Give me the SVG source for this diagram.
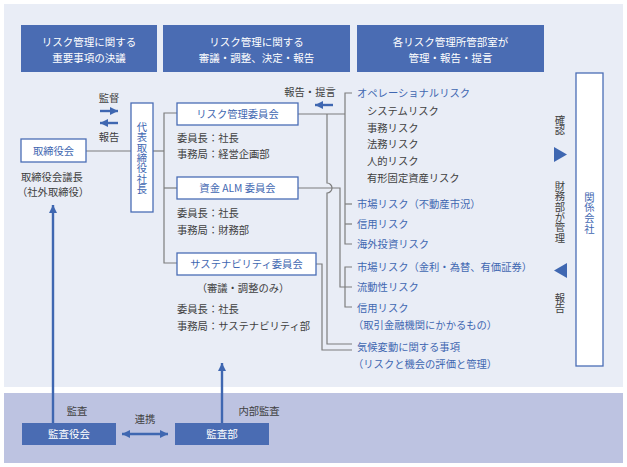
<svg xmlns="http://www.w3.org/2000/svg" width="627" height="467" viewBox="0 0 627 467">
<style>
text{font-family:"Noto Sans CJK JP","Noto Sans",sans-serif;font-size:10.3px}
.hd{fill:#ffffff;text-anchor:middle;font-size:10.5px}
.bl{fill:#3F67B1}
.gr{fill:#404040}
.c{text-anchor:middle}
.v{writing-mode:vertical-rl;text-anchor:middle}
.box{fill:#ffffff;stroke:#4A6DB5;stroke-width:1.3}
.hbox{fill:#4A6CB3}
.ln{fill:none;stroke:#7d7d7d;stroke-width:1.2}
.ar{fill:none;stroke:#3F67B1;stroke-width:2.4}
</style>
<defs>
<marker id="ah" viewBox="0 0 10 10" refX="10" refY="5" markerWidth="8" markerHeight="8" markerUnits="userSpaceOnUse" orient="auto-start-reverse">
<path d="M0,0 L10,5 L0,10 z" fill="#3F67B1"/>
</marker>
</defs>
<rect width="627" height="467" fill="#ffffff"/>
<rect x="4" y="4" width="619" height="383" fill="#E9EDF6"/>
<rect x="4" y="393" width="619" height="70" fill="#BDC3E1"/>

<g id="header1"><rect class="hbox" x="21" y="25" width="136" height="47"/><text class="hd" x="89" y="45.5">リスク管理に関する</text><text class="hd" x="89" y="61.5">重要事項の決議</text></g>
<g id="header2"><rect class="hbox" x="163" y="25" width="187" height="47"/><text class="hd" x="256.5" y="45.5">リスク管理に関する</text><text class="hd" x="256.5" y="61.5">審議・調整、決定・報告</text></g>
<g id="header3"><rect class="hbox" x="357" y="25" width="187" height="47"/><text class="hd" x="450.5" y="45.5">各リスク管理所管部室が</text><text class="hd" x="450.5" y="61.5">管理・報告・提言</text></g>

<g id="connectors">
<line class="ln" x1="86" y1="151" x2="131" y2="151"/>
<line class="ln" x1="153" y1="151" x2="164" y2="151"/>
<path class="ln" d="M177,113 H164 V263 H177"/>
<line class="ln" x1="164" y1="188" x2="177" y2="188"/>
<line class="ln" x1="298" y1="114" x2="345" y2="114"/>
<path class="ln" d="M327,114 V183 A5,5 0 0 1 327,193 V344 H352"/>
<path class="ln" d="M298,188 H340 V287 H352"/>
<path class="ln" d="M316,264 H322 V350 H352"/>
<path class="ln" d="M352,93 H345 V244 H352"/>
<line class="ln" x1="345" y1="204" x2="352" y2="204"/>
<line class="ln" x1="345" y1="224" x2="352" y2="224"/>
<path class="ln" d="M352,267 H345 V307 H352"/>
<line class="ar" x1="100" y1="111" x2="118" y2="111" marker-end="url(#ah)"/>
<line class="ar" x1="118" y1="123" x2="100" y2="123" marker-end="url(#ah)"/>
<line class="ar" x1="333" y1="105" x2="315" y2="105" marker-end="url(#ah)"/>
<line class="ar" x1="53" y1="423" x2="53" y2="205" marker-end="url(#ah)"/>
<line class="ar" x1="222" y1="423" x2="222" y2="363" marker-end="url(#ah)"/>
<line class="ar" x1="122" y1="434" x2="168" y2="434" marker-start="url(#ah)" marker-end="url(#ah)"/>
<polygon points="554,147 567,154.5 554,162" fill="#3F67B1"/>
<polygon points="567,263 554,270.5 567,278" fill="#3F67B1"/>
</g>

<g id="labels">
<text class="gr c" x="109" y="102">監督</text>
<text class="gr c" x="109" y="141">報告</text>
<text class="gr c" x="310" y="96">報告・提言</text>
<text class="gr c" x="77" y="415">監査</text>
<text class="gr c" x="145" y="423">連携</text>
<text class="gr c" x="259" y="415">内部監査</text>
<text class="gr v" x="560" y="125">確認</text>
<text class="gr v" x="560" y="212">財務部が管理</text>
<text class="gr v" x="560" y="303">報告</text>
</g>

<g id="board"><rect class="box" x="21" y="139" width="65" height="23"/><text class="bl c" x="53.5" y="154.5">取締役会</text>
<text class="gr" x="21" y="181">取締役会議長</text><text class="gr" x="17" y="196">（社外取締役）</text></g>

<g id="president"><rect class="box" x="131" y="103" width="22" height="109"/>
<text class="bl v" x="142" y="158">代表取締役社長</text></g>

<g id="riskcommittee"><rect class="box" x="177" y="103" width="121" height="22"/><text class="bl c" x="237.5" y="118">リスク管理委員会</text>
<text class="gr" x="177" y="142">委員長：社長</text><text class="gr" x="177" y="158">事務局：経営企画部</text></g>

<g id="almcommittee"><rect class="box" x="177" y="177" width="121" height="22"/><text class="bl c" x="237.5" y="192">資金 ALM 委員会</text>
<text class="gr" x="177" y="217">委員長：社長</text><text class="gr" x="177" y="234">事務局：財務部</text></g>

<g id="sustcommittee"><rect class="box" x="177" y="253" width="139" height="22"/><text class="bl c" x="246.5" y="268">サステナビリティ委員会</text>
<text class="gr c" x="243" y="292">（審議・調整のみ）</text>
<text class="gr" x="177" y="313">委員長：社長</text><text class="gr" x="177" y="330">事務局：サステナビリティ部</text></g>

<g id="risklist">
<text class="bl" x="357" y="97">オペレーショナルリスク</text>
<text class="gr" x="367" y="115">システムリスク</text>
<text class="gr" x="367" y="132">事務リスク</text>
<text class="gr" x="367" y="148">法務リスク</text>
<text class="gr" x="367" y="165">人的リスク</text>
<text class="gr" x="367" y="182">有形固定資産リスク</text>
<text class="bl" x="357" y="208">市場リスク（不動産市況）</text>
<text class="bl" x="357" y="228">信用リスク</text>
<text class="bl" x="357" y="248">海外投資リスク</text>
<text class="bl" x="357" y="271">市場リスク（金利・為替、有価証券）</text>
<text class="bl" x="357" y="291">流動性リスク</text>
<text class="bl" x="357" y="312">信用リスク</text>
<text class="bl" x="353" y="329">（取引金融機関にかかるもの）</text>
<text class="bl" x="357" y="351">気候変動に関する事項</text>
<text class="bl" x="353" y="368">（リスクと機会の評価と管理）</text>
</g>

<g id="affiliates"><rect class="box" x="576" y="73" width="27" height="293"/>
<text class="bl v" x="589.5" y="213" letter-spacing="0.4">関係会社</text></g>

<g id="auditboard"><rect class="hbox" x="22" y="423" width="94" height="22"/><text class="hd" x="69" y="438">監査役会</text></g>
<g id="auditdept"><rect class="hbox" x="175" y="423" width="94" height="22"/><text class="hd" x="222" y="438">監査部</text></g>
</svg>
